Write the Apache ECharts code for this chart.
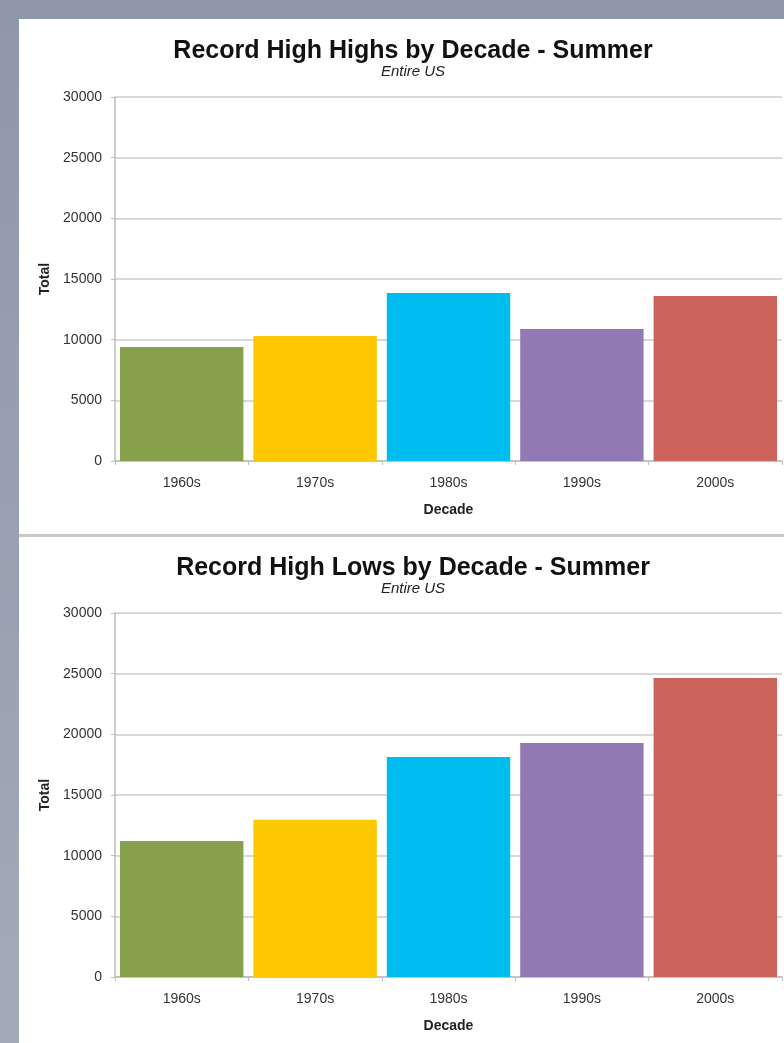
<!DOCTYPE html>
<html>
<head>
    <meta charset="utf-8" />
    <title>Record Highs by Decade - Summer</title>
    <style>
        html, body { margin: 0; padding: 0; }
        body {
            width: 784px;
            height: 1043px;
            overflow: hidden;
            position: relative;
            background: linear-gradient(180deg, #8f98ab 0%, #98a0b1 50%, #a3aab7 100%);
        }
        .panel { position: absolute; left: 19px; width: 765px; background: #fff; }
        #p1 { top: 19px; height: 515px; }
        #p2 { top: 537px; height: 506px; }
        #sep { position: absolute; left: 19px; width: 765px; top: 534px; height: 3px; background: #c8c8c8; }
        #chart { position: absolute; left: 0; top: 0; width: 784px; height: 1043px; }
    </style>
</head>
<body>
    <div class="panel" id="p1"></div>
    <div id="sep"></div>
    <div class="panel" id="p2"></div>
    <div id="chart"></div>
    <script src="https://cdn.jsdelivr.net/npm/echarts@6/dist/echarts.min.js"></script>
    <script>
        // 数据
        var decades = ['1960s', '1970s', '1980s', '1990s', '2000s'];
        var highHighs = [9400, 10300, 13850, 10880, 13600];
        var highLows = [11200, 12950, 18130, 19290, 24650];
        var barColors = ['#87a04c', '#fdc800', '#00bdf0', '#917ab4', '#cb635c'];

        var FONT = '"Liberation Sans", Arial, sans-serif';

        function makeData(vals) {
            return vals.map(function (v, i) {
                return { value: v, itemStyle: { color: barColors[i] } };
            });
        }

        function xAxisOpt(idx) {
            return {
                type: 'category',
                gridIndex: idx,
                data: decades,
                name: 'Decade',
                nameLocation: 'middle',
                nameGap: 42,
                nameTextStyle: { fontFamily: FONT, fontWeight: 'bold', fontSize: 14, color: '#222' },
                axisLine: { lineStyle: { color: '#bdbdbd', width: 1.5 } },
                axisTick: { show: true, length: 4, lineStyle: { color: '#bdbdbd' } },
                axisLabel: { fontFamily: FONT, fontSize: 14, color: '#333', margin: 15 }
            };
        }

        function yAxisOpt(idx) {
            return {
                type: 'value',
                gridIndex: idx,
                min: 0,
                max: 30000,
                interval: 5000,
                name: 'Total',
                nameLocation: 'middle',
                nameGap: 63,
                nameRotate: 90,
                nameTextStyle: { fontFamily: FONT, fontWeight: 'bold', fontSize: 14, color: '#222' },
                axisLine: { show: true, lineStyle: { color: '#bdbdbd', width: 1.5 } },
                axisTick: { show: true, length: 4, lineStyle: { color: '#bdbdbd' } },
                axisLabel: {
                    fontFamily: FONT, fontSize: 14, color: '#333', margin: 13,
                    formatter: function (v) { return String(v); }
                },
                splitLine: { lineStyle: { color: '#cccccc', width: 1.5 } }
            };
        }

        var myChart = echarts.init(document.getElementById('chart'));
        var option = {
            backgroundColor: 'transparent',
            animation: false,
            title: [
                {
                    text: 'Record High Highs by Decade - Summer',
                    subtext: 'Entire US',
                    left: 408, top: 34, textAlign: 'center',
                    itemGap: 0,
                    textStyle: { fontFamily: FONT, fontWeight: 'bold', fontSize: 25, color: '#111' },
                    subtextStyle: { fontFamily: FONT, fontStyle: 'italic', fontSize: 15, color: '#222' }
                },
                {
                    text: 'Record High Lows by Decade - Summer',
                    subtext: 'Entire US',
                    left: 408, top: 551, textAlign: 'center',
                    itemGap: 0,
                    textStyle: { fontFamily: FONT, fontWeight: 'bold', fontSize: 25, color: '#111' },
                    subtextStyle: { fontFamily: FONT, fontStyle: 'italic', fontSize: 15, color: '#222' }
                }
            ],
            grid: [
                { left: 115, right: 2, top: 97, height: 364 },
                { left: 115, right: 2, top: 613, height: 364 }
            ],
            xAxis: [xAxisOpt(0), xAxisOpt(1)],
            yAxis: [yAxisOpt(0), yAxisOpt(1)],
            series: [
                {
                    type: 'bar', xAxisIndex: 0, yAxisIndex: 0,
                    barCategoryGap: '7.5%',
                    data: makeData(highHighs)
                },
                {
                    type: 'bar', xAxisIndex: 1, yAxisIndex: 1,
                    barCategoryGap: '7.5%',
                    data: makeData(highLows)
                }
            ]
        };
        myChart.setOption(option);
    </script>
</body>
</html>
